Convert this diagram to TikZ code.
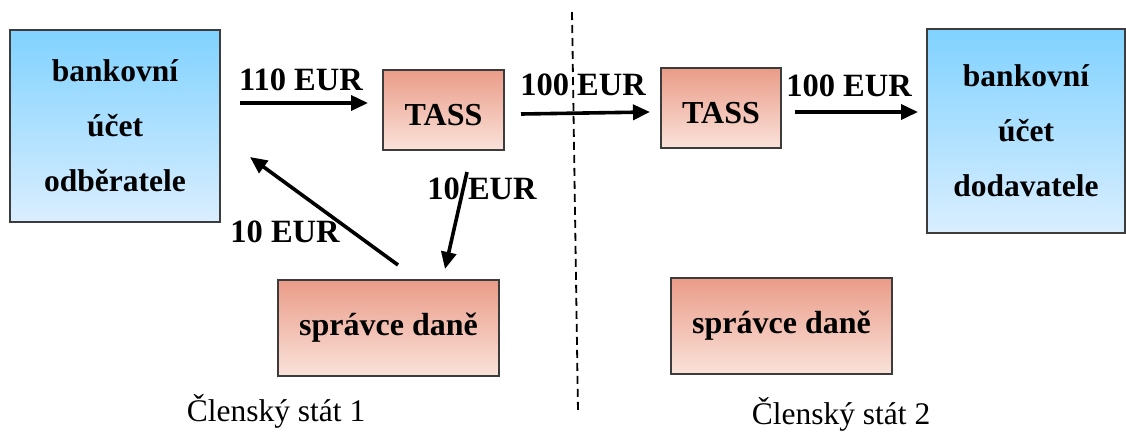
\documentclass[tikz,border=0pt]{standalone}
\usepackage{fontspec}
\setmainfont{Liberation Serif}
\usetikzlibrary{arrows.meta}
\definecolor{bluetop}{RGB}{128,210,255}
\definecolor{bluebot}{RGB}{218,238,255}
\definecolor{salmtop}{RGB}{234,156,136}
\definecolor{salmbot}{RGB}{250,226,218}
\definecolor{edgegray}{RGB}{60,60,60}
\tikzset{
  account/.style={draw=edgegray, line width=1.3pt, top color=bluetop, bottom color=bluebot,
    align=center, inner sep=0pt, font=\fontsize{31.5}{55}\selectfont\bfseries},
  office/.style={draw=edgegray, line width=1.3pt, top color=salmtop, bottom color=salmbot,
    align=center, inner sep=0pt, font=\fontsize{32}{36}\selectfont\bfseries},
  flow/.style={line width=3.6pt, -{Triangle[length=17pt,width=15pt]}},
  amount/.style={anchor=base, inner sep=0pt, font=\fontsize{32.5}{36}\selectfont\bfseries},
  state/.style={anchor=base, inner sep=0pt, font=\fontsize{31.5}{36}\selectfont},
}
\begin{document}
\begin{tikzpicture}[x=1pt,y=-1pt]
\useasboundingbox (0,0) rectangle (1126,432);

% border between the two member states
\coordinate (bt) at (572,12);
\coordinate (bb) at (578,412);
\draw[line width=1.8pt, dash pattern=on 8pt off 5pt] (bt) -- (bb);

% accounts
\node[account, minimum width=210pt, minimum height=192pt] (odb) at (115,126)
  {\rule{0pt}{10pt}bankovní\\účet\\odběratele};
\node[account, minimum width=198pt, minimum height=204pt] (dod) at (1026,131)
  {\rule{0pt}{10pt}bankovní\\účet\\dodavatele};

% TASS boxes and tax administrators (TASS set a little below centre)
\node[office, minimum width=121pt, minimum height=80pt] (tass1) at (443.5,110) {\raisebox{0pt}[31pt][0pt]{TASS}};
\node[office, minimum width=120pt, minimum height=80pt] (tass2) at (721,108) {\raisebox{0pt}[31pt][0pt]{TASS}};
\node[office, minimum width=221pt, minimum height=96pt] (spr1) at (388.5,328) {správce daně};
\node[office, minimum width=221pt, minimum height=96pt] (spr2) at (781.5,326) {správce daně};

% arrow end points
\coordinate (a1s) at (240,103);  \coordinate (a1e) at (368,103);
\coordinate (a2s) at (521,114);  \coordinate (a2e) at (650,112);
\coordinate (a3s) at (795,112);  \coordinate (a3e) at (918,112);
\coordinate (a4s) at (467,172);  \coordinate (a4e) at (445,269);
\coordinate (a5s) at (398,265);  \coordinate (a5e) at (250,157);

\draw[flow] (a1s) -- (a1e);
\draw[flow] (a2s) -- (a2e);
\draw[flow] (a3s) -- (a3e);
\draw[flow] (a4s) -- (a4e);
\draw[flow] (a5s) -- (a5e);

% amounts
\node[amount] (l1) at (301,90) {110 EUR};
\node[amount] (l2) at (583,95) {100 EUR};
\node[amount] (l3) at (849,96) {100 EUR};
\node[amount] (l4) at (482,199) {10 EUR};
\node[amount] (l5) at (285,242) {10 EUR};

% member states
\node[state] (st1) at (276,421) {Členský stát 1};
\node[state] (st2) at (841,424) {Členský stát 2};
\end{tikzpicture}
\end{document}
